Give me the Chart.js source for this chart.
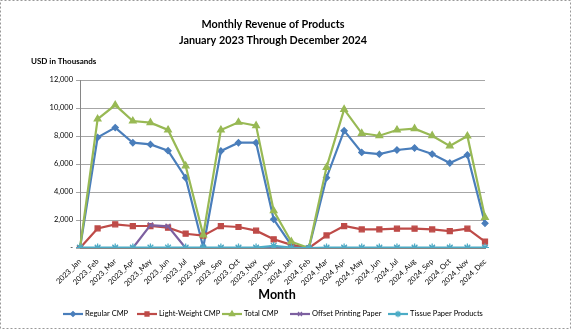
<!DOCTYPE html>
<html>
<head>
<meta charset="utf-8">
<script src="https://cdn.jsdelivr.net/npm/chart.js@4.4.1/dist/chart.umd.min.js"></script>
<style>
  html, body { margin: 0; padding: 0; background: #fff; }
  #wrap { position: relative; width: 571px; height: 329px; }
</style>
</head>
<body>
<div id="wrap"><canvas id="c" width="571" height="329"></canvas></div>
<script>
// Monthly revenue, USD in thousands
const months = [
  '2023_Jan','2023_Feb','2023_Mar','2023_Apr','2023_May','2023_Jun',
  '2023_Jul','2023_Aug','2023_Sep','2023_Oct','2023_Nov','2023_Dec',
  '2024_Jan','2024_Feb','2024_Mar','2024_Apr','2024_May','2024_Jun',
  '2024_Jul','2024_Aug','2024_Sep','2024_Oct','2024_Nov','2024_Dec'
];
const regularCMP = [0,7900,8600,7520,7400,6950,5020,50,6930,7520,7520,2050,
                    200,0,5020,8380,6830,6710,7000,7140,6710,6070,6640,1760];
const lightWeightCMP = [0,1400,1690,1570,1570,1450,1020,880,1570,1500,1240,620,
                        220,0,900,1570,1330,1330,1380,1380,1330,1210,1380,450];
const totalCMP = [0,9210,10210,9070,8950,8430,5860,930,8430,8980,8740,2660,
                  450,0,5760,9900,8190,8020,8430,8520,8020,7290,8000,2190];
const offsetPrintingPaper = [0,0,0,0,1640,1550,0,0,0,0,0,0,
                             0,0,0,0,0,0,0,0,0,0,0,0];
const tissuePaperProducts = [30,30,30,30,30,30,30,30,30,30,30,150,
                             30,0,30,30,30,30,30,30,30,30,30,30];
const yTickValues = [0,2000,4000,6000,8000,10000,12000];

const FONT = 'Lato, "Open Sans", sans-serif';

function series(label, data, color, style, radius, order) {
  return {
    label, data, order,
    borderColor: color, backgroundColor: color,
    borderWidth: 2.2,
    pointStyle: style, pointRadius: radius, pointHoverRadius: radius,
    pointBorderColor: color, pointBackgroundColor: color, pointBorderWidth: 1.3,
    tension: 0
  };
}

const datasets = [
  series('Regular CMP', regularCMP, '#4a7ebb', 'rectRot', 3, 5),
  series('Light-Weight CMP', lightWeightCMP, '#be4b48', 'rect', 3.5, 4),
  series('Total CMP', totalCMP, '#98b954', 'triangle', 3.8, 3),
  series('Offset Printing Paper', offsetPrintingPaper, '#7d60a0', 'crossRot', 3.5, 2),
  series('Tissue Paper Products', tissuePaperProducts, '#4bacc6', 'star', 4, 1)
];

// Titles, axis captions, legend and frame
const decorations = {
  id: 'decorations',
  afterDraw(chart) {
    const ctx = chart.ctx;
    ctx.save();
    ctx.fillStyle = '#000';
    ctx.textAlign = 'center';
    ctx.textBaseline = 'middle';
    ctx.font = 'bold 10.8px ' + FONT;
    ctx.fillText('Monthly Revenue of Products', 273, 25);
    ctx.fillText('January 2023 Through December 2024', 273, 41);

    ctx.textAlign = 'left';
    ctx.font = 'bold 8px ' + FONT;
    ctx.fillText('USD in Thousands', 31, 61);

    ctx.textAlign = 'center';
    ctx.font = 'bold 12.5px ' + FONT;
    ctx.fillText('Month', 277, 295);

    // legend: line sample with marker, then label
    const slots = [63, 137, 222, 290, 388];
    const ly = 314;
    ctx.font = '7.5px ' + FONT;
    ctx.textAlign = 'left';
    chart.data.datasets.forEach((ds, i) => {
      const x0 = slots[i];
      ctx.strokeStyle = ds.borderColor;
      ctx.lineWidth = 2.2;
      ctx.beginPath();
      ctx.moveTo(x0, ly);
      ctx.lineTo(x0 + 20, ly);
      ctx.stroke();
      ctx.lineWidth = 1.3;
      ctx.fillStyle = ds.backgroundColor;
      Chart.helpers.drawPoint(ctx, {pointStyle: ds.pointStyle, radius: ds.pointRadius * 0.8, rotation: 0, borderWidth: 1.3}, x0 + 10, ly);
      ctx.fillStyle = '#000';
      ctx.fillText(ds.label, x0 + 22, ly);
    });

    ctx.setLineDash([2, 2]);
    ctx.strokeStyle = '#999';
    ctx.lineWidth = 1;
    ctx.strokeRect(0.5, 0.5, 570, 328);
    ctx.restore();
  }
};

new Chart(document.getElementById('c'), {
  type: 'line',
  data: { labels: months, datasets },
  plugins: [decorations],
  options: {
    responsive: false,
    animation: false,
    layout: { padding: { top: 80, right: 86, left: 0, bottom: 0 } },
    plugins: { legend: { display: false }, title: { display: false }, tooltip: { enabled: false } },
    scales: {
      x: {
        afterFit(scale) { scale.height = 81; },
        grid: { display: false },
        border: { display: true, color: '#868686', width: 1 },
        ticks: {
          autoSkip: false, minRotation: 45, maxRotation: 45, padding: 1,
          color: '#000', font: { family: FONT, size: 7.5 }
        }
      },
      y: {
        min: 0, max: 12000,
        afterFit(scale) { scale.width = 80; },
        afterBuildTicks(scale) { scale.ticks = yTickValues.map(v => ({ value: v })); },
        grid: { color: '#a6a6a6', lineWidth: 1, tickLength: 4, drawTicks: true },
        border: { display: true, color: '#868686', width: 1 },
        ticks: {
          padding: 3, color: '#000', font: { family: FONT, size: 7.5 },
          callback: v => v === 0 ? '-' : v.toLocaleString('en-US')
        }
      }
    }
  }
});
</script>
</body>
</html>
